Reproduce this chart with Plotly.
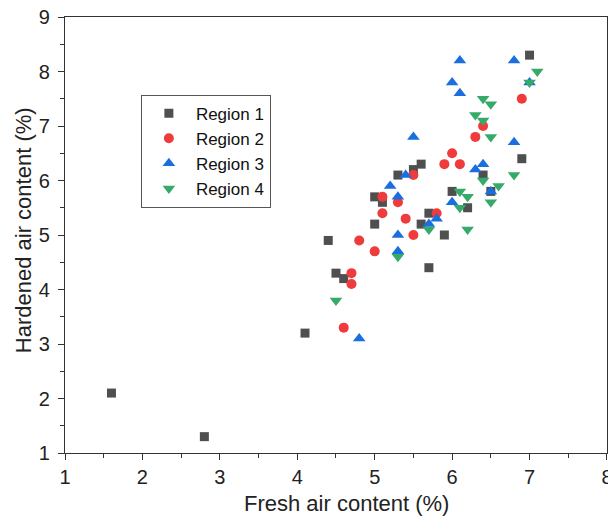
import plotly.graph_objects as go

# Region 1 (squares)
r1_x = [1.6, 2.8, 4.1, 4.4, 4.5, 4.6, 5.0, 5.0, 5.1, 5.3, 5.5, 5.6, 5.6, 5.7, 5.7, 5.9, 6.0, 6.2, 6.4, 6.5, 6.9, 7.0]
r1_y = [2.1, 1.3, 3.2, 4.9, 4.3, 4.2, 5.2, 5.7, 5.6, 6.1, 6.2, 6.3, 5.2, 5.4, 4.4, 5.0, 5.8, 5.5, 6.1, 5.8, 6.4, 8.3]
# Region 2 (circles)
r2_x = [4.6, 4.7, 4.7, 4.8, 5.0, 5.1, 5.1, 5.3, 5.4, 5.5, 5.5, 5.8, 5.9, 6.0, 6.1, 6.3, 6.4, 6.9]
r2_y = [3.3, 4.1, 4.3, 4.9, 4.7, 5.4, 5.7, 5.6, 5.3, 5.0, 6.1, 5.4, 6.3, 6.5, 6.3, 6.8, 7.0, 7.5]
# Region 3 (up triangles)
r3_x = [4.8, 5.3, 5.3, 5.3, 5.2, 5.4, 5.5, 5.7, 5.8, 6.0, 6.0, 6.1, 6.1, 6.3, 6.4, 6.5, 6.8, 6.8, 7.0]
r3_y = [3.1, 4.7, 5.0, 5.7, 5.9, 6.1, 6.8, 5.2, 5.3, 5.6, 7.8, 7.6, 8.2, 6.2, 6.3, 5.8, 6.7, 8.2, 7.8]
# Region 4 (down triangles)
r4_x = [4.5, 5.3, 5.7, 6.1, 6.1, 6.2, 6.2, 6.4, 6.5, 6.6, 6.8, 6.3, 6.4, 6.4, 6.5, 6.5, 7.0, 7.1]
r4_y = [3.8, 4.6, 5.1, 5.5, 5.8, 5.7, 5.1, 6.0, 5.6, 5.9, 6.1, 7.2, 7.1, 7.5, 7.4, 6.8, 7.8, 8.0]

x_title = "Fresh air content (%)"
y_title = "Hardened air content (%)"

series = [
    ("Region 1", r1_x, r1_y, "square", "#4f4f4f", 9),
    ("Region 2", r2_x, r2_y, "circle", "#ef3b3b", 10),
    ("Region 3", r3_x, r3_y, "triangle-up", "#1b6ee0", 11),
    ("Region 4", r4_x, r4_y, "triangle-down", "#36ab69", 11),
]

fig = go.Figure()
for name, xs, ys, sym, col, sz in series:
    fig.add_trace(go.Scatter(
        x=xs, y=ys, mode="markers", name=name,
        marker=dict(symbol=sym, color=col, size=sz, line=dict(width=0)),
    ))

FONT = "Arial, Liberation Sans, sans-serif"
axis_common = dict(
    showgrid=False, zeroline=False, automargin=False,
    showline=True, linecolor="#333333", linewidth=1.3, mirror=True,
    ticks="outside", ticklen=6, tickwidth=1.2, tickcolor="#333333",
    tickfont=dict(family=FONT, size=20, color="#222222"),
    ticklabeloverflow="allow",
    minor=dict(ticks="outside", ticklen=4, tickwidth=1.2, tickcolor="#333333", dtick=0.5),
)

fig.update_layout(
    width=608, height=516,
    margin=dict(l=65, r=1, t=17, b=63, autoexpand=False),
    paper_bgcolor="white", plot_bgcolor="white",
    font=dict(family=FONT, color="#222222"),
    xaxis=dict(range=[1, 8.0005], dtick=1, tick0=1, **axis_common),
    yaxis=dict(range=[1, 9], dtick=1, tick0=1, ticklabelstandoff=4, **axis_common),
    legend=dict(
        x=0.14, y=0.822, xanchor="left", yanchor="top",
        bgcolor="white", bordercolor="#555555", borderwidth=1,
        font=dict(size=17, color="#111111"),
        itemwidth=44,
    ),
    showlegend=True,
    annotations=[
        dict(text=x_title, xref="paper", yref="paper", x=0.52, y=-0.115,
             xanchor="center", yanchor="middle", showarrow=False,
             font=dict(family=FONT, size=22, color="#222222")),
        dict(text=y_title, xref="paper", yref="paper", x=-0.0775, y=0.511,
             xanchor="center", yanchor="middle", showarrow=False, textangle=-90,
             font=dict(family=FONT, size=22, color="#222222")),
    ],
)

fig.write_html("out.html")
